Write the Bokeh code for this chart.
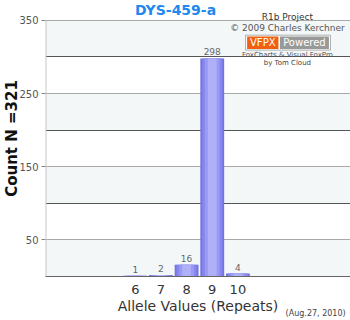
from bokeh.plotting import figure
from bokeh.models import (ColumnDataSource, Label, BoxAnnotation, FixedTicker,
                          Range1d, Grid, LinearAxis)
from bokeh.embed import file_html
from bokeh.resources import INLINE
from bokeh.core.properties import value

# ---- data ----
alleles = [6, 7, 8, 9, 10]
counts = [1, 2, 16, 298, 4]
count_labels = ["1", "2", "16", "298", "4"]
y_label_ticks = [50, 150, 250, 350]
y_dark_ticks = [100, 200, 300]
band_ranges = [(0, 50), (100, 150), (200, 250), (300, 350)]
y_max = 350
date_text = "(Aug.27, 2010)"

FONT = "DejaVu Sans"
X0, X1 = 2.5, 14.39

p = figure(width=350, height=320, output_backend="svg", toolbar_location=None,
           x_range=Range1d(X0, X1), y_range=Range1d(0, 377.1),
           min_border_left=45, min_border_right=0, min_border_top=0,
           min_border_bottom=42, background_fill_color="white",
           border_fill_color="white", outline_line_color=None)

# bands
for lo, hi in band_ranges:
    p.add_layout(BoxAnnotation(bottom=lo, top=hi, fill_color="#f3f7f8",
                               fill_alpha=1, line_color=None, level="underlay"))

p.xgrid.visible = False
p.ygrid.visible = False
p.add_layout(Grid(dimension=1, ticker=FixedTicker(ticks=y_label_ticks),
                  grid_line_color="#a8a8a8", grid_line_width=1))
p.add_layout(Grid(dimension=1, ticker=FixedTicker(ticks=y_dark_ticks),
                  grid_line_color="#555555", grid_line_width=1))

# left axis rule only up to the top value
p.segment(x0=[X0], y0=[0], x1=[X0], y1=[y_max], line_color="#c8c8c8", line_width=2)

# bars (layered to mimic the gradient)
src = ColumnDataSource(dict(x=alleles, top=counts, lab=count_labels))
layers = [(0.93, "#7474e4"), (0.78, "#8686ec"), (0.58, "#9a9af2"), (0.34, "#b0b0f8")]
for w, c in layers:
    p.vbar(x="x", top="top", bottom=0, width=w, source=src,
           fill_color=c, line_color=None)

p.text(x="x", y="top", text="lab", source=src, text_align="center",
       text_baseline="bottom", y_offset=-3, text_font=value(FONT),
       text_font_size="9px", text_color="#666666")

# y axis
p.yaxis.ticker = FixedTicker(ticks=y_label_ticks)
p.yaxis.axis_line_color = None
p.yaxis.major_tick_line_color = "#888888"
p.yaxis.major_tick_out = 4
p.yaxis.major_tick_in = 0
p.yaxis.minor_tick_line_color = None
p.yaxis.major_label_text_font = FONT
p.yaxis.major_label_text_font_size = "10px"
p.yaxis.major_label_text_color = "#555555"
p.yaxis.major_label_standoff = 3
p.yaxis.axis_label = "Count N =321"
p.yaxis.axis_label_text_font = FONT
p.yaxis.axis_label_text_font_size = "15px"
p.yaxis.axis_label_text_font_style = "bold"
p.yaxis.axis_label_text_color = "#111111"
p.yaxis.axis_label_standoff = -5

# x axis
p.xaxis.ticker = FixedTicker(ticks=alleles)
p.xaxis.axis_line_color = "#666666"
p.xaxis.major_tick_line_color = None
p.xaxis.minor_tick_line_color = None
p.xaxis.major_label_text_font = FONT
p.xaxis.major_label_text_font_size = "13px"
p.xaxis.major_label_text_color = "#333333"
p.xaxis.major_label_standoff = 2
p.xaxis.axis_label = "Allele Values (Repeats)"
p.xaxis.axis_label_text_font = FONT
p.xaxis.axis_label_text_font_size = "14px"
p.xaxis.axis_label_text_font_style = "normal"
p.xaxis.axis_label_text_color = "#333333"
p.xaxis.axis_label_standoff = 1

# date as a tick label of a bare secondary axis
date_x = 13.03
date_axis = LinearAxis(ticker=FixedTicker(ticks=[date_x]),
                       major_label_overrides={date_x: date_text},
                       axis_line_color=None, major_tick_line_color=None,
                       minor_tick_line_color=None, major_tick_out=0,
                       major_tick_in=0, major_label_standoff=-8,
                       major_label_text_font=FONT,
                       major_label_text_font_size="8px",
                       major_label_text_color="#444444")
p.add_layout(date_axis, "below")

# title and credits
def lab(x, y, t, size, color, style="normal", align="center"):
    p.add_layout(Label(x=x, y=y, text=t, text_align=align, text_baseline="middle",
                       text_font=FONT, text_font_size=size, text_color=color,
                       text_font_style=style))

lab(7.57, 363.6, "DYS-459-a", "14px", "#2288ee", style="bold")
lab(11.93, 354, "R1b Project", "9px", "#333333")
lab(11.93, 339, "\u00a9 2009 Charles Kerchner", "9px", "#555555")
p.add_layout(BoxAnnotation(left=10.30, right=13.61, bottom=309.4, top=329.7,
                           fill_color="white", fill_alpha=1, line_color="black",
                           line_width=1))
p.add_layout(BoxAnnotation(left=10.36, right=11.58, bottom=311, top=328,
                           fill_color="#f06010", fill_alpha=1, line_color=None))
p.add_layout(BoxAnnotation(left=11.64, right=13.55, bottom=311, top=328,
                           fill_color="#999999", fill_alpha=1, line_color=None))
lab(10.97, 319.5, "VFPX", "10px", "white")
lab(12.595, 319.5, "Powered", "10px", "white")
lab(11.93, 302.6, "FoxCharts & Visual FoxPro", "7px", "#555555")
lab(11.93, 291.7, "by Tom Cloud", "7px", "#444444")

open("out.html", "w").write(file_html(p, INLINE))
